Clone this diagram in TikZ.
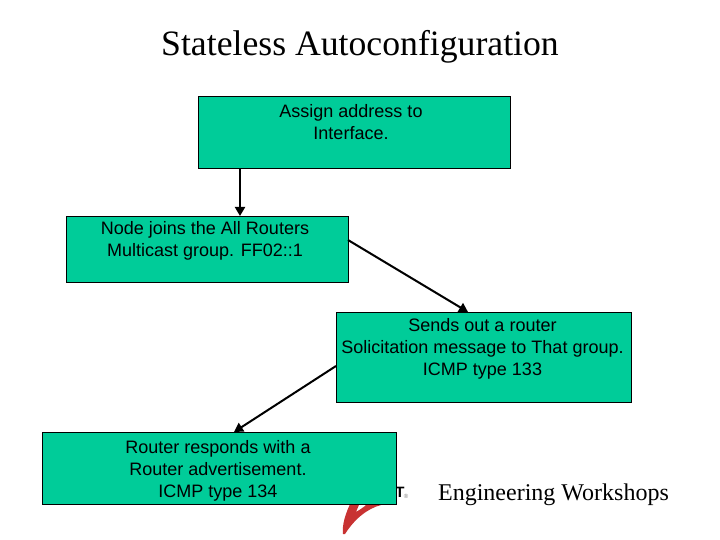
\documentclass[tikz,border=0pt]{standalone}
\usepackage{fontspec}
\setmainfont{Liberation Serif}
\setsansfont{Liberation Sans}
\usetikzlibrary{arrows.meta}
\definecolor{boxgreen}{RGB}{0,204,153}
\definecolor{swoosh}{RGB}{200,50,50}
\tikzset{
  stepbox/.style={draw=black,fill=boxgreen,line width=1pt,inner sep=0pt,anchor=north west},
  boxtext/.style={font=\sffamily\fontsize{18}{22}\selectfont,align=center,anchor=north,inner sep=0pt,text=black},
  flow/.style={draw=black,line width=2pt,-{Triangle[length=9pt,width=10pt]}},
}
\begin{document}
\begin{tikzpicture}[x=1pt,y=-1pt]
\useasboundingbox (0,0) rectangle (720,540);
\fill[white] (0,0) rectangle (720,540);
% logo behind the lower box
\fill[swoosh] (343,534) .. controls (342,525) and (345,514) .. (352,500)
  -- (361,500) -- (356,512) .. controls (361,509) and (366,506) .. (371,500)
  -- (383,500) -- (381,505) .. controls (366,509) and (354,520) .. (345,534) -- cycle;
\node[font=\sffamily\bfseries\fontsize{15}{15}\selectfont,inner sep=0pt] (logot) at (400,492.5) {T};
\node[font=\sffamily\fontsize{6}{6}\selectfont,text=gray,inner sep=0pt] (logor) at (406,496) {®};
\node[stepbox,minimum width=312pt,minimum height=72pt] (a) at (198,96) {};
\node[stepbox,minimum width=282pt,minimum height=66pt] (b) at (66,216) {};
\node[stepbox,minimum width=295pt,minimum height=90pt] (c) at (336,312) {};
\node[stepbox,minimum width=354pt,minimum height=72pt] (d) at (42,432) {};
\node[boxtext] (ta) at (351,104) {Assign address to\\Interface.};
\node[boxtext] (tb) at (205,221) {Node joins the All Routers\\Multicast group. FF02::1};
\node[boxtext] (tc) at (482.5,318) {Sends out a router\\Solicitation message to That group.\\ICMP type 133};
\node[boxtext] (td) at (218,440) {Router responds with a\\Router advertisement.\\ICMP type 134};
\draw[flow] (a.south west -| 240,0) -- (b.north west -| 240,0);
\coordinate (bout) at (348,240);
\coordinate (cin) at (468,312);
\coordinate (cout) at (336,366);
\coordinate (din) at (234,432);
\draw[flow] (bout) -- (cin);
\draw[flow] (cout) -- (din);
\node[font=\rmfamily\fontsize{35.7}{38}\selectfont,inner sep=0pt] (title) at (360,46.5) {Stateless Autoconfiguration};
\node[font=\rmfamily\fontsize{24}{28}\selectfont,inner sep=0pt] (eng) at (553.5,495) {Engineering Workshops};
\end{tikzpicture}
\end{document}
